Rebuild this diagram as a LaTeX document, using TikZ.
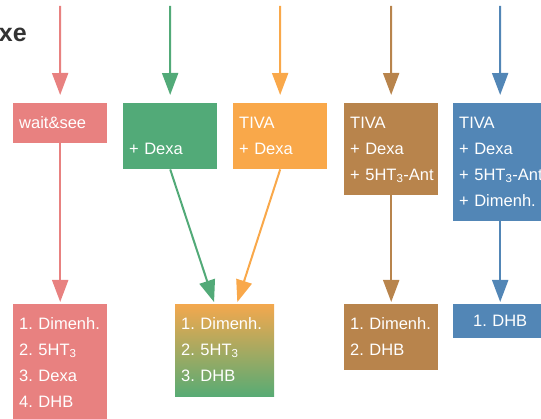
\documentclass[tikz,border=0pt]{standalone}
\usepackage{fontspec}
\setmainfont{Liberation Sans}
\usepackage{xcolor}
\usetikzlibrary{
    arrows.meta,
    positioning,
    calc
}
\definecolor{waitred}{HTML}{E88180}
\definecolor{dexagreen}{HTML}{52AA78}
\definecolor{tivaorange}{HTML}{F9A84A}
\definecolor{antbrown}{HTML}{B8844C}
\definecolor{dimblue}{HTML}{5286B6}
\definecolor{gradtop}{HTML}{F3A84E}
\definecolor{gradbottom}{HTML}{58AB74}
\newcommand{\boxstrut}{\rule[-7.8pt]{0pt}{26pt}}
\newcommand{\boxstart}{\frenchspacing\hyphenpenalty10000 \exhyphenpenalty10000 \boxstrut}
\newcommand{\sub}[1]{\textsubscript{#1}}

\begin{document}
\begin{tikzpicture}[
        x=1pt, y=-1pt,
        box/.style={anchor=north west, text=white, font=\fontsize{16.5}{26}\selectfont,
            text width=82pt, align=left, inner xsep=6pt, inner ysep=7pt,
            execute at begin node=\boxstart,
            execute at end node=\boxstrut},
        arrow/.style={-{Triangle[length=22pt, width=16pt]}, line width=2pt}
    ]
        \useasboundingbox (0,0) rectangle (541,419);

        % Title (cut off)
        \node[anchor=base east, inner sep=0pt, text=black!80, font=\fontsize{25}{30}\selectfont\bfseries] (title) at (27,42) {xe};

        % Strategies
        \node[box, fill=waitred] (wait) at (13,103) {wait\&see};
        \node[box, fill=dexagreen] (dexa) at (123,103) {\\+ Dexa};
        \node[box, fill=tivaorange] (tiva) at (233,103) {TIVA\\+ Dexa};
        \node[box, fill=antbrown] (tivaant) at (344,103) {TIVA\\+ Dexa\\\mbox{+ 5HT\sub{3}-Ant}};
        \node[box, fill=dimblue] (tivadim) at (453,103) {TIVA\\+ Dexa\\\mbox{+ 5HT\sub{3}-Ant.}\\+ Dimenh.};

        % Rescue
        \node[box, fill=waitred] (res1) at (13,304) {\mbox{1. Dimenh.}\\2. 5HT\sub{3}\\3. Dexa\\4. DHB};
        \node[box, top color=gradtop, bottom color=gradbottom, text width=87pt] (res2) at (175,304) {\mbox{1. Dimenh.}\\2. 5HT\sub{3}\\3. DHB};
        \node[box, fill=antbrown] (res3) at (344,304) {\mbox{1. Dimenh.}\\2. DHB};
        \node[box, fill=dimblue, align=center, inner ysep=4pt] (res4) at (453,304) {1. DHB};

        % Arrows
        \coordinate (in1) at (60,6);
        \coordinate (in2) at (170,6);
        \coordinate (in3) at (280,6);
        \coordinate (in4) at (391,6);
        \coordinate (in5) at (500,6);

        \draw[arrow, waitred, shorten >=8pt] (in1) -- (wait.north);
        \draw[arrow, dexagreen, shorten >=8pt] (in2) -- (dexa.north);
        \draw[arrow, tivaorange, shorten >=8pt] (in3) -- (tiva.north);
        \draw[arrow, antbrown, shorten >=8pt] (in4) -- (tivaant.north);
        \draw[arrow, dimblue, shorten >=8pt] (in5) -- (tivadim.north);

        \draw[arrow, waitred, shorten >=2pt] (wait.south) -- (res1.north);
        \draw[arrow, dexagreen, shorten >=2pt] (dexa.south) -- ([xshift=-10pt]res2.north);
        \draw[arrow, tivaorange, shorten >=2pt] (tiva.south) -- ([xshift=12pt]res2.north);
        \draw[arrow, antbrown, shorten >=2pt] (tivaant.south) -- (res3.north);
        \draw[arrow, dimblue, shorten >=2pt] (tivadim.south) -- (res4.north);
    \end{tikzpicture}
\end{document}
